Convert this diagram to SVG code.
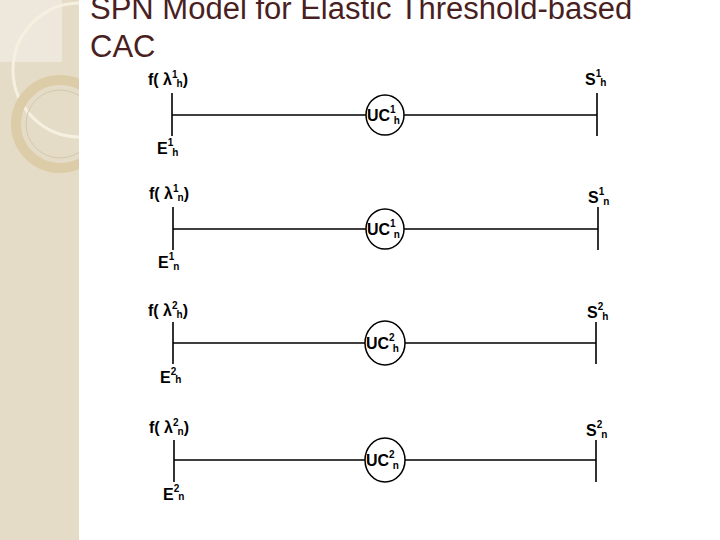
<svg xmlns="http://www.w3.org/2000/svg" width="720" height="540" viewBox="0 0 720 540">
<style>
.l{stroke:#000;stroke-width:1.6;fill:none}
.c{stroke:#000;stroke-width:1.5;fill:#fff}
text{font-family:"Liberation Sans",Arial,sans-serif;font-weight:bold;font-size:16px;fill:#000}
.s{font-size:10px}
.t{font-weight:normal;font-size:31px;fill:#4a1f1f}
</style>
<defs><clipPath id="cp"><rect x="0" y="0" width="79" height="540"/></clipPath></defs>
<rect width="720" height="540" fill="#fff"/>
<rect width="79" height="540" fill="#e5dcc8"/>
<g clip-path="url(#cp)" fill="none">
<rect x="0" y="0" width="62" height="62" fill="#eee8dc"/>
<circle cx="80" cy="70" r="67" stroke="#f6f0e0" stroke-width="3"/>
<circle cx="60" cy="124" r="44" stroke="#dccda8" stroke-width="10"/>
<circle cx="60" cy="124" r="34" stroke="#cfc2a4" stroke-width="0.8"/>
</g>
<text class="t" x="90" y="19">SPN Model for Elastic Threshold-based</text>
<text class="t" x="90" y="57">CAC</text>
<g id="connectors">
<path class="l" d="M172 93V136M172 115H366M404 115H597M597 93V136"/>
<path class="l" d="M173 207V250M173 229H366M404 229H598M598 207V250"/>
<path class="l" d="M173 322V364M173 343H365M405 343H596M596 322V364"/>
<path class="l" d="M174 440V482M174 460H365M405 460H596M596 440V482"/>
</g>
<g id="uc1h"><ellipse class="c" cx="385" cy="115" rx="19" ry="20"/><text x="367" y="121">UC<tspan class="s" dy="-8">1</tspan><tspan class="s" dx="-2" dy="11">h</tspan></text></g>
<g id="uc1n"><ellipse class="c" cx="385" cy="229" rx="19" ry="20"/><text x="367" y="235">UC<tspan class="s" dy="-8">1</tspan><tspan class="s" dx="-2" dy="11">n</tspan></text></g>
<g id="uc2h"><ellipse class="c" cx="385" cy="343" rx="20" ry="22"/><text x="366" y="349">UC<tspan class="s" dy="-8">2</tspan><tspan class="s" dx="-2" dy="11">h</tspan></text></g>
<g id="uc2n"><ellipse class="c" cx="385" cy="460" rx="20" ry="22"/><text x="366" y="466">UC<tspan class="s" dy="-8">2</tspan><tspan class="s" dx="-2" dy="11">n</tspan></text></g>
<g id="labels">
<text x="148" y="85">f( λ<tspan class="s" dy="-7">1</tspan><tspan class="s" dx="-1" dy="9">h</tspan><tspan dy="-2">)</tspan></text>
<text x="157" y="154">E<tspan class="s" dy="-8">1</tspan><tspan class="s" dx="-1" dy="10">h</tspan></text>
<text x="585" y="85">S<tspan class="s" dy="-8">1</tspan><tspan class="s" dx="-1" dy="9">h</tspan></text>
<text x="149" y="199">f( λ<tspan class="s" dy="-7">1</tspan><tspan class="s" dx="-1" dy="9">n</tspan><tspan dy="-2">)</tspan></text>
<text x="158" y="268">E<tspan class="s" dy="-8">1</tspan><tspan class="s" dx="-1" dy="10">n</tspan></text>
<text x="588" y="203">S<tspan class="s" dy="-8">1</tspan><tspan class="s" dx="-1" dy="10">n</tspan></text>
<text x="148" y="316">f( λ<tspan class="s" dy="-7">2</tspan><tspan class="s" dx="-1" dy="9">h</tspan><tspan dy="-2">)</tspan></text>
<text x="160" y="383">E<tspan class="s" dy="-8">2</tspan><tspan class="s" dx="-1" dy="8">h</tspan></text>
<text x="587" y="318">S<tspan class="s" dy="-8">2</tspan><tspan class="s" dx="-1" dy="10">h</tspan></text>
<text x="149" y="433">f( λ<tspan class="s" dy="-7">2</tspan><tspan class="s" dx="-1" dy="9">n</tspan><tspan dy="-2">)</tspan></text>
<text x="163" y="500">E<tspan class="s" dy="-8">2</tspan><tspan class="s" dx="-1" dy="8">n</tspan></text>
<text x="586" y="436">S<tspan class="s" dy="-8">2</tspan><tspan class="s" dx="-1" dy="10">n</tspan></text>
</g>
</svg>
